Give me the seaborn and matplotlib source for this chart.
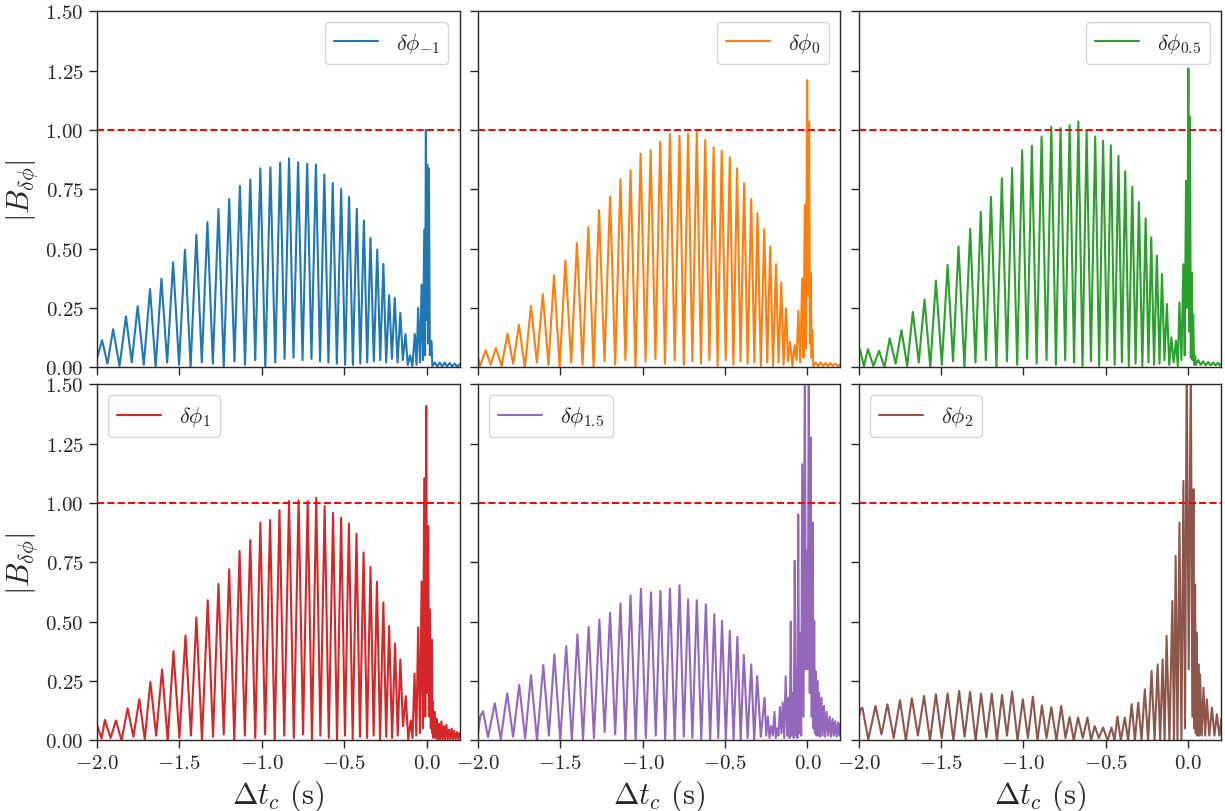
import numpy as np
import pandas as pd
import seaborn as sns
import matplotlib.pyplot as plt

# |B| vs Delta t_c, vertices (peaks and troughs)
t1 = [-2.000, -1.968, -1.935, -1.901, -1.862, -1.823, -1.788, -1.752, -1.715, -1.677, -1.643, -1.608, -1.573, -1.537,
      -1.501, -1.465, -1.431, -1.396, -1.363, -1.329, -1.296, -1.262, -1.230, -1.197, -1.165, -1.132, -1.101, -1.069,
      -1.039, -1.008, -0.978, -0.947, -0.918, -0.888, -0.861, -0.834, -0.807, -0.779, -0.752, -0.724, -0.698, -0.671,
      -0.646, -0.620, -0.595, -0.569, -0.544, -0.518, -0.494, -0.470, -0.447, -0.423, -0.402, -0.380, -0.360, -0.340,
      -0.320, -0.299, -0.281, -0.262, -0.245, -0.227, -0.210, -0.193, -0.176, -0.159, -0.144, -0.128, -0.114, -0.100,
      -0.086, -0.071, -0.061, -0.051, -0.040, -0.030, -0.022, -0.014, -0.009, -0.004, 0.000, 0.004, 0.009, 0.014,
      0.020, 0.030, 0.035, 0.050, 0.065, 0.080, 0.095, 0.110, 0.125, 0.140, 0.155, 0.170, 0.185, 0.200]
b1 = [0.034, 0.114, 0.015, 0.160, 0.005, 0.214, 0.020, 0.257, 0.010, 0.329, 0.000, 0.373, 0.020, 0.442, 0.010, 0.495,
      0.000, 0.558, 0.020, 0.611, 0.015, 0.666, 0.000, 0.708, 0.025, 0.764, 0.010, 0.791, 0.030, 0.838, 0.000, 0.842,
      0.020, 0.862, 0.035, 0.880, 0.040, 0.863, 0.030, 0.857, 0.035, 0.854, 0.025, 0.812, 0.020, 0.776, 0.015, 0.751,
      0.010, 0.717, 0.010, 0.668, 0.015, 0.618, 0.020, 0.545, 0.025, 0.496, 0.030, 0.435, 0.020, 0.303, 0.035, 0.292,
      0.020, 0.229, 0.030, 0.140, 0.010, 0.050, 0.005, 0.140, 0.010, 0.250, 0.020, 0.348, 0.030, 0.580, 0.050, 1.000,
      0.200, 0.854, 0.100, 0.838, 0.050, 0.110, 0.005, 0.020, 0.003, 0.020, 0.003, 0.020, 0.003, 0.018, 0.003, 0.015,
      0.003, 0.012]

t2 = [-2.000, -1.985, -1.951, -1.921, -1.890, -1.855, -1.819, -1.785, -1.750, -1.714, -1.677, -1.641, -1.605, -1.571,
      -1.537, -1.503, -1.468, -1.433, -1.398, -1.364, -1.329, -1.297, -1.264, -1.231, -1.197, -1.166, -1.134, -1.104,
      -1.073, -1.043, -1.012, -0.982, -0.951, -0.922, -0.893, -0.864, -0.834, -0.805, -0.776, -0.750, -0.724, -0.698,
      -0.671, -0.646, -0.620, -0.595, -0.569, -0.545, -0.520, -0.496, -0.471, -0.449, -0.427, -0.406, -0.384, -0.363,
      -0.341, -0.322, -0.303, -0.283, -0.262, -0.244, -0.226, -0.209, -0.191, -0.175, -0.159, -0.145, -0.130, -0.118,
      -0.105, -0.091, -0.077, -0.066, -0.055, -0.044, -0.032, -0.024, -0.016, -0.009, -0.002, 0.004, 0.010, 0.015,
      0.020, 0.025, 0.029, 0.035, 0.050, 0.065, 0.080, 0.095, 0.110, 0.125, 0.140, 0.155, 0.170, 0.185, 0.200]
b2 = [0.048, 0.005, 0.072, 0.010, 0.081, 0.005, 0.142, 0.015, 0.178, 0.000, 0.258, 0.020, 0.308, 0.010, 0.387, 0.000,
      0.449, 0.020, 0.523, 0.010, 0.590, 0.000, 0.663, 0.025, 0.720, 0.010, 0.792, 0.030, 0.830, 0.000, 0.900, 0.025,
      0.914, 0.035, 0.950, 0.015, 0.982, 0.030, 0.975, 0.010, 0.982, 0.025, 0.991, 0.015, 0.958, 0.030, 0.926, 0.005,
      0.912, 0.030, 0.884, 0.010, 0.838, 0.025, 0.775, 0.015, 0.708, 0.020, 0.649, 0.005, 0.582, 0.020, 0.509, 0.005,
      0.434, 0.020, 0.357, 0.010, 0.248, 0.025, 0.107, 0.005, 0.093, 0.030, 0.237, 0.020, 0.374, 0.040, 0.683, 0.080,
      1.210, 0.300, 1.035, 0.100, 0.396, 0.040, 0.157, 0.005, 0.020, 0.005, 0.020, 0.005, 0.018, 0.005, 0.018, 0.005,
      0.015, 0.005, 0.012]

t3 = [-2.000, -1.992, -1.968, -1.943, -1.910, -1.876, -1.843, -1.811, -1.775, -1.740, -1.705, -1.671, -1.635, -1.600,
      -1.565, -1.531, -1.495, -1.460, -1.427, -1.394, -1.358, -1.323, -1.291, -1.259, -1.228, -1.197, -1.164, -1.131,
      -1.100, -1.069, -1.038, -1.008, -0.978, -0.949, -0.920, -0.890, -0.860, -0.831, -0.803, -0.775, -0.747, -0.720,
      -0.693, -0.667, -0.642, -0.617, -0.591, -0.565, -0.541, -0.517, -0.493, -0.470, -0.447, -0.424, -0.403, -0.383,
      -0.361, -0.340, -0.320, -0.300, -0.279, -0.259, -0.242, -0.225, -0.208, -0.191, -0.175, -0.160, -0.145, -0.130,
      -0.116, -0.103, -0.089, -0.075, -0.064, -0.054, -0.042, -0.030, -0.022, -0.014, -0.007, 0.000, 0.005, 0.010,
      0.015, 0.021, 0.025, 0.029, 0.035, 0.041, 0.046, 0.060, 0.075, 0.090, 0.105, 0.120, 0.135, 0.150, 0.165, 0.180,
      0.190, 0.200]
b3 = [0.050, 0.076, 0.005, 0.076, 0.005, 0.069, 0.000, 0.122, 0.015, 0.156, 0.005, 0.233, 0.020, 0.285, 0.000, 0.365,
      0.010, 0.431, 0.025, 0.509, 0.000, 0.582, 0.020, 0.655, 0.030, 0.717, 0.000, 0.796, 0.025, 0.839, 0.010, 0.914,
      0.035, 0.933, 0.015, 0.972, 0.030, 1.012, 0.010, 1.007, 0.030, 1.019, 0.020, 1.035, 0.005, 0.999, 0.025, 0.972,
      0.005, 0.954, 0.030, 0.935, 0.010, 0.890, 0.020, 0.825, 0.005, 0.760, 0.015, 0.697, 0.005, 0.627, 0.020, 0.547,
      0.010, 0.470, 0.015, 0.392, 0.030, 0.266, 0.010, 0.126, 0.020, 0.112, 0.005, 0.273, 0.030, 0.434, 0.050, 0.785,
      0.250, 1.259, 0.150, 1.056, 0.040, 0.398, 0.030, 0.222, 0.010, 0.047, 0.010, 0.030, 0.010, 0.025, 0.008, 0.022,
      0.008, 0.020, 0.008, 0.018, 0.008, 0.015]

t4 = [-2.000, -1.971, -1.951, -1.916, -1.884, -1.850, -1.813, -1.778, -1.742, -1.709, -1.675, -1.640, -1.604, -1.570,
      -1.535, -1.499, -1.462, -1.429, -1.396, -1.362, -1.327, -1.295, -1.262, -1.230, -1.197, -1.166, -1.134, -1.102,
      -1.069, -1.039, -1.008, -0.979, -0.949, -0.921, -0.892, -0.863, -0.834, -0.805, -0.776, -0.749, -0.721, -0.695,
      -0.669, -0.644, -0.618, -0.593, -0.567, -0.543, -0.518, -0.495, -0.471, -0.448, -0.425, -0.404, -0.382, -0.361,
      -0.340, -0.321, -0.301, -0.282, -0.262, -0.245, -0.227, -0.209, -0.191, -0.175, -0.159, -0.143, -0.126, -0.111,
      -0.096, -0.085, -0.073, -0.062, -0.051, -0.040, -0.030, -0.022, -0.014, -0.008, -0.002, 0.004, 0.010, 0.015,
      0.020, 0.026, 0.032, 0.035, 0.038, 0.042, 0.050, 0.056, 0.062, 0.068, 0.075, 0.082, 0.090, 0.097, 0.105, 0.112,
      0.120, 0.128, 0.136, 0.144, 0.152, 0.160, 0.168, 0.176, 0.185, 0.193, 0.200]
b4 = [0.067, 0.008, 0.086, 0.010, 0.084, 0.000, 0.135, 0.015, 0.173, 0.005, 0.246, 0.020, 0.299, 0.000, 0.376, 0.010,
      0.442, 0.020, 0.518, 0.000, 0.590, 0.015, 0.659, 0.025, 0.721, 0.000, 0.798, 0.020, 0.844, 0.010, 0.917, 0.025,
      0.928, 0.000, 0.970, 0.020, 1.008, 0.010, 1.011, 0.025, 1.008, 0.005, 1.022, 0.020, 0.987, 0.010, 0.958, 0.000,
      0.938, 0.020, 0.913, 0.005, 0.871, 0.015, 0.792, 0.010, 0.731, 0.020, 0.668, 0.005, 0.581, 0.015, 0.482, 0.010,
      0.408, 0.020, 0.341, 0.060, 0.186, 0.005, 0.084, 0.010, 0.281, 0.020, 0.476, 0.030, 0.670, 0.050, 1.104, 0.100,
      1.409, 0.200, 0.902, 0.100, 0.551, 0.050, 0.425, 0.030, 0.165, 0.010, 0.120, 0.010, 0.090, 0.005, 0.070, 0.005,
      0.080, 0.005, 0.060, 0.005, 0.065, 0.005, 0.045, 0.005, 0.050, 0.005, 0.040, 0.005, 0.035, 0.005, 0.030]

t5 = [-2.000, -1.985, -1.968, -1.937, -1.896, -1.860, -1.821, -1.785, -1.748, -1.712, -1.677, -1.640, -1.602, -1.568,
      -1.535, -1.499, -1.463, -1.429, -1.395, -1.361, -1.327, -1.295, -1.262, -1.230, -1.197, -1.166, -1.134, -1.104,
      -1.073, -1.042, -1.010, -0.980, -0.949, -0.920, -0.892, -0.863, -0.834, -0.805, -0.776, -0.750, -0.724, -0.698,
      -0.671, -0.644, -0.616, -0.590, -0.565, -0.541, -0.518, -0.495, -0.471, -0.448, -0.425, -0.405, -0.386, -0.363,
      -0.341, -0.323, -0.305, -0.283, -0.260, -0.250, -0.240, -0.230, -0.220, -0.210, -0.200, -0.192, -0.185, -0.176,
      -0.167, -0.158, -0.150, -0.141, -0.132, -0.123, -0.115, -0.108, -0.101, -0.096, -0.090, -0.083, -0.077, -0.071,
      -0.066, -0.061, -0.056, -0.050, -0.044, -0.038, -0.032, -0.024, -0.016, -0.010, -0.004, 0.002, 0.008, 0.014,
      0.020, 0.026, 0.032, 0.037, 0.041, 0.045, 0.049, 0.055, 0.060, 0.065, 0.070, 0.077, 0.085, 0.092, 0.100, 0.108,
      0.117, 0.126, 0.135, 0.143, 0.152, 0.160, 0.168, 0.177, 0.186, 0.193, 0.200]
b5 = [0.018, 0.100, 0.123, 0.014, 0.156, 0.005, 0.198, 0.015, 0.233, 0.008, 0.275, 0.000, 0.317, 0.020, 0.362, 0.000,
      0.397, 0.000, 0.446, 0.005, 0.478, 0.010, 0.509, 0.035, 0.537, 0.025, 0.576, 0.000, 0.611, 0.000, 0.638, 0.010,
      0.624, 0.020, 0.630, 0.005, 0.639, 0.000, 0.653, 0.015, 0.594, 0.010, 0.590, 0.005, 0.573, 0.000, 0.531, 0.010,
      0.503, 0.000, 0.461, 0.005, 0.436, 0.000, 0.360, 0.010, 0.320, 0.000, 0.271, 0.015, 0.180, 0.020, 0.100, 0.010,
      0.060, 0.020, 0.120, 0.010, 0.050, 0.020, 0.140, 0.030, 0.160, 0.010, 0.270, 0.020, 0.180, 0.010, 0.500, 0.020,
      0.200, 0.010, 0.756, 0.020, 0.300, 0.010, 0.952, 0.030, 0.450, 0.020, 1.163, 0.100, 1.600, 0.300, 0.800, 0.300,
      1.600, 0.200, 1.276, 0.100, 0.917, 0.050, 0.503, 0.030, 0.292, 0.020, 0.250, 0.020, 0.200, 0.015, 0.180, 0.020,
      0.145, 0.015, 0.120, 0.020, 0.100, 0.015, 0.090, 0.020, 0.080, 0.015, 0.075, 0.020, 0.070]

t6 = [-2.000, -1.988, -1.977, -1.941, -1.897, -1.861, -1.825, -1.787, -1.749, -1.713, -1.677, -1.640, -1.603, -1.567,
      -1.531, -1.496, -1.460, -1.425, -1.390, -1.357, -1.324, -1.290, -1.257, -1.225, -1.192, -1.161, -1.130, -1.100,
      -1.069, -1.036, -1.004, -0.973, -0.943, -0.915, -0.888, -0.860, -0.831, -0.800, -0.771, -0.745, -0.720, -0.695,
      -0.669, -0.640, -0.612, -0.590, -0.568, -0.543, -0.517, -0.490, -0.466, -0.448, -0.430, -0.410, -0.385, -0.365,
      -0.344, -0.324, -0.304, -0.284, -0.264, -0.244, -0.223, -0.205, -0.186, -0.171, -0.156, -0.144, -0.132, -0.115,
      -0.097, -0.087, -0.077, -0.066, -0.054, -0.042, -0.030, -0.020, -0.010, 0.002, 0.015, 0.024, 0.031, 0.036,
      0.041, 0.045, 0.049, 0.055, 0.061, 0.066, 0.071, 0.081, 0.092, 0.102, 0.112, 0.127, 0.143, 0.158, 0.173, 0.188,
      0.203]
b6 = [0.088, 0.130, 0.138, 0.004, 0.145, 0.025, 0.152, 0.010, 0.169, 0.000, 0.177, 0.020, 0.187, 0.000, 0.194, 0.010,
      0.198, 0.000, 0.208, 0.015, 0.204, 0.000, 0.197, 0.012, 0.197, 0.000, 0.191, 0.020, 0.205, 0.000, 0.173, 0.010,
      0.184, 0.000, 0.147, 0.010, 0.140, 0.000, 0.145, 0.010, 0.098, 0.000, 0.096, 0.010, 0.096, 0.000, 0.060, 0.010,
      0.054, 0.000, 0.054, 0.000, 0.100, 0.000, 0.096, 0.000, 0.152, 0.000, 0.159, 0.000, 0.215, 0.000, 0.292, 0.000,
      0.320, 0.000, 0.341, 0.000, 0.440, 0.000, 0.587, 0.000, 0.777, 0.000, 0.917, 0.000, 1.093, 0.050, 1.600, 0.300,
      1.600, 0.100, 1.058, 0.050, 0.657, 0.030, 0.454, 0.020, 0.320, 0.020, 0.278, 0.020, 0.222, 0.020, 0.173, 0.020,
      0.138, 0.020, 0.110, 0.020, 0.097]

labels = [r"$\delta\phi_{-1}$", r"$\delta\phi_{0}$", r"$\delta\phi_{0.5}$",
          r"$\delta\phi_{1}$", r"$\delta\phi_{1.5}$", r"$\delta\phi_{2}$"]
series = [(t1, b1), (t2, b2), (t3, b3), (t4, b4), (t5, b5), (t6, b6)]

sns.set_style("ticks")
plt.rcParams["font.family"] = "serif"
plt.rcParams["font.serif"] = ["cmr10"]
plt.rcParams["mathtext.fontset"] = "cm"
plt.rcParams["axes.formatter.use_mathtext"] = True
plt.rcParams["axes.unicode_minus"] = True

colors = sns.color_palette("tab10")

fig, axes = plt.subplots(2, 3, figsize=(12.25, 8.12), dpi=100, sharex=True, sharey=True)
fig.subplots_adjust(left=0.079, right=0.997, top=0.985, bottom=0.087, wspace=0.05, hspace=0.048)

for i, ax in enumerate(axes.flat):
    t, b = series[i]
    sns.lineplot(x=t, y=b, ax=ax, color=colors[i], lw=1.5, estimator=None, sort=False, label=labels[i])
    ax.axhline(1.0, color="red", ls="--", lw=1.4)
    ax.set_xlim(-2.0, 0.2)
    ax.set_ylim(0, 1.5)
    ax.set_xticks([-2.0, -1.5, -1.0, -0.5, 0.0])
    ax.set_yticks([0, 0.25, 0.5, 0.75, 1.0, 1.25, 1.5])
    ax.tick_params(labelsize=15, length=6, width=1)
    for s in ax.spines.values():
        s.set_visible(True)
        s.set_linewidth(1)
    ax.legend(loc="upper right" if i < 3 else "upper left", fontsize=16)

for ax in axes[:, 0]:
    ax.set_ylabel(r"$|B_{\delta\phi}|$", fontsize=22)
for ax in axes[1, :]:
    ax.set_xlabel(r"$\Delta t_c$ (s)", fontsize=22)

fig.savefig("out.png", dpi=100)
